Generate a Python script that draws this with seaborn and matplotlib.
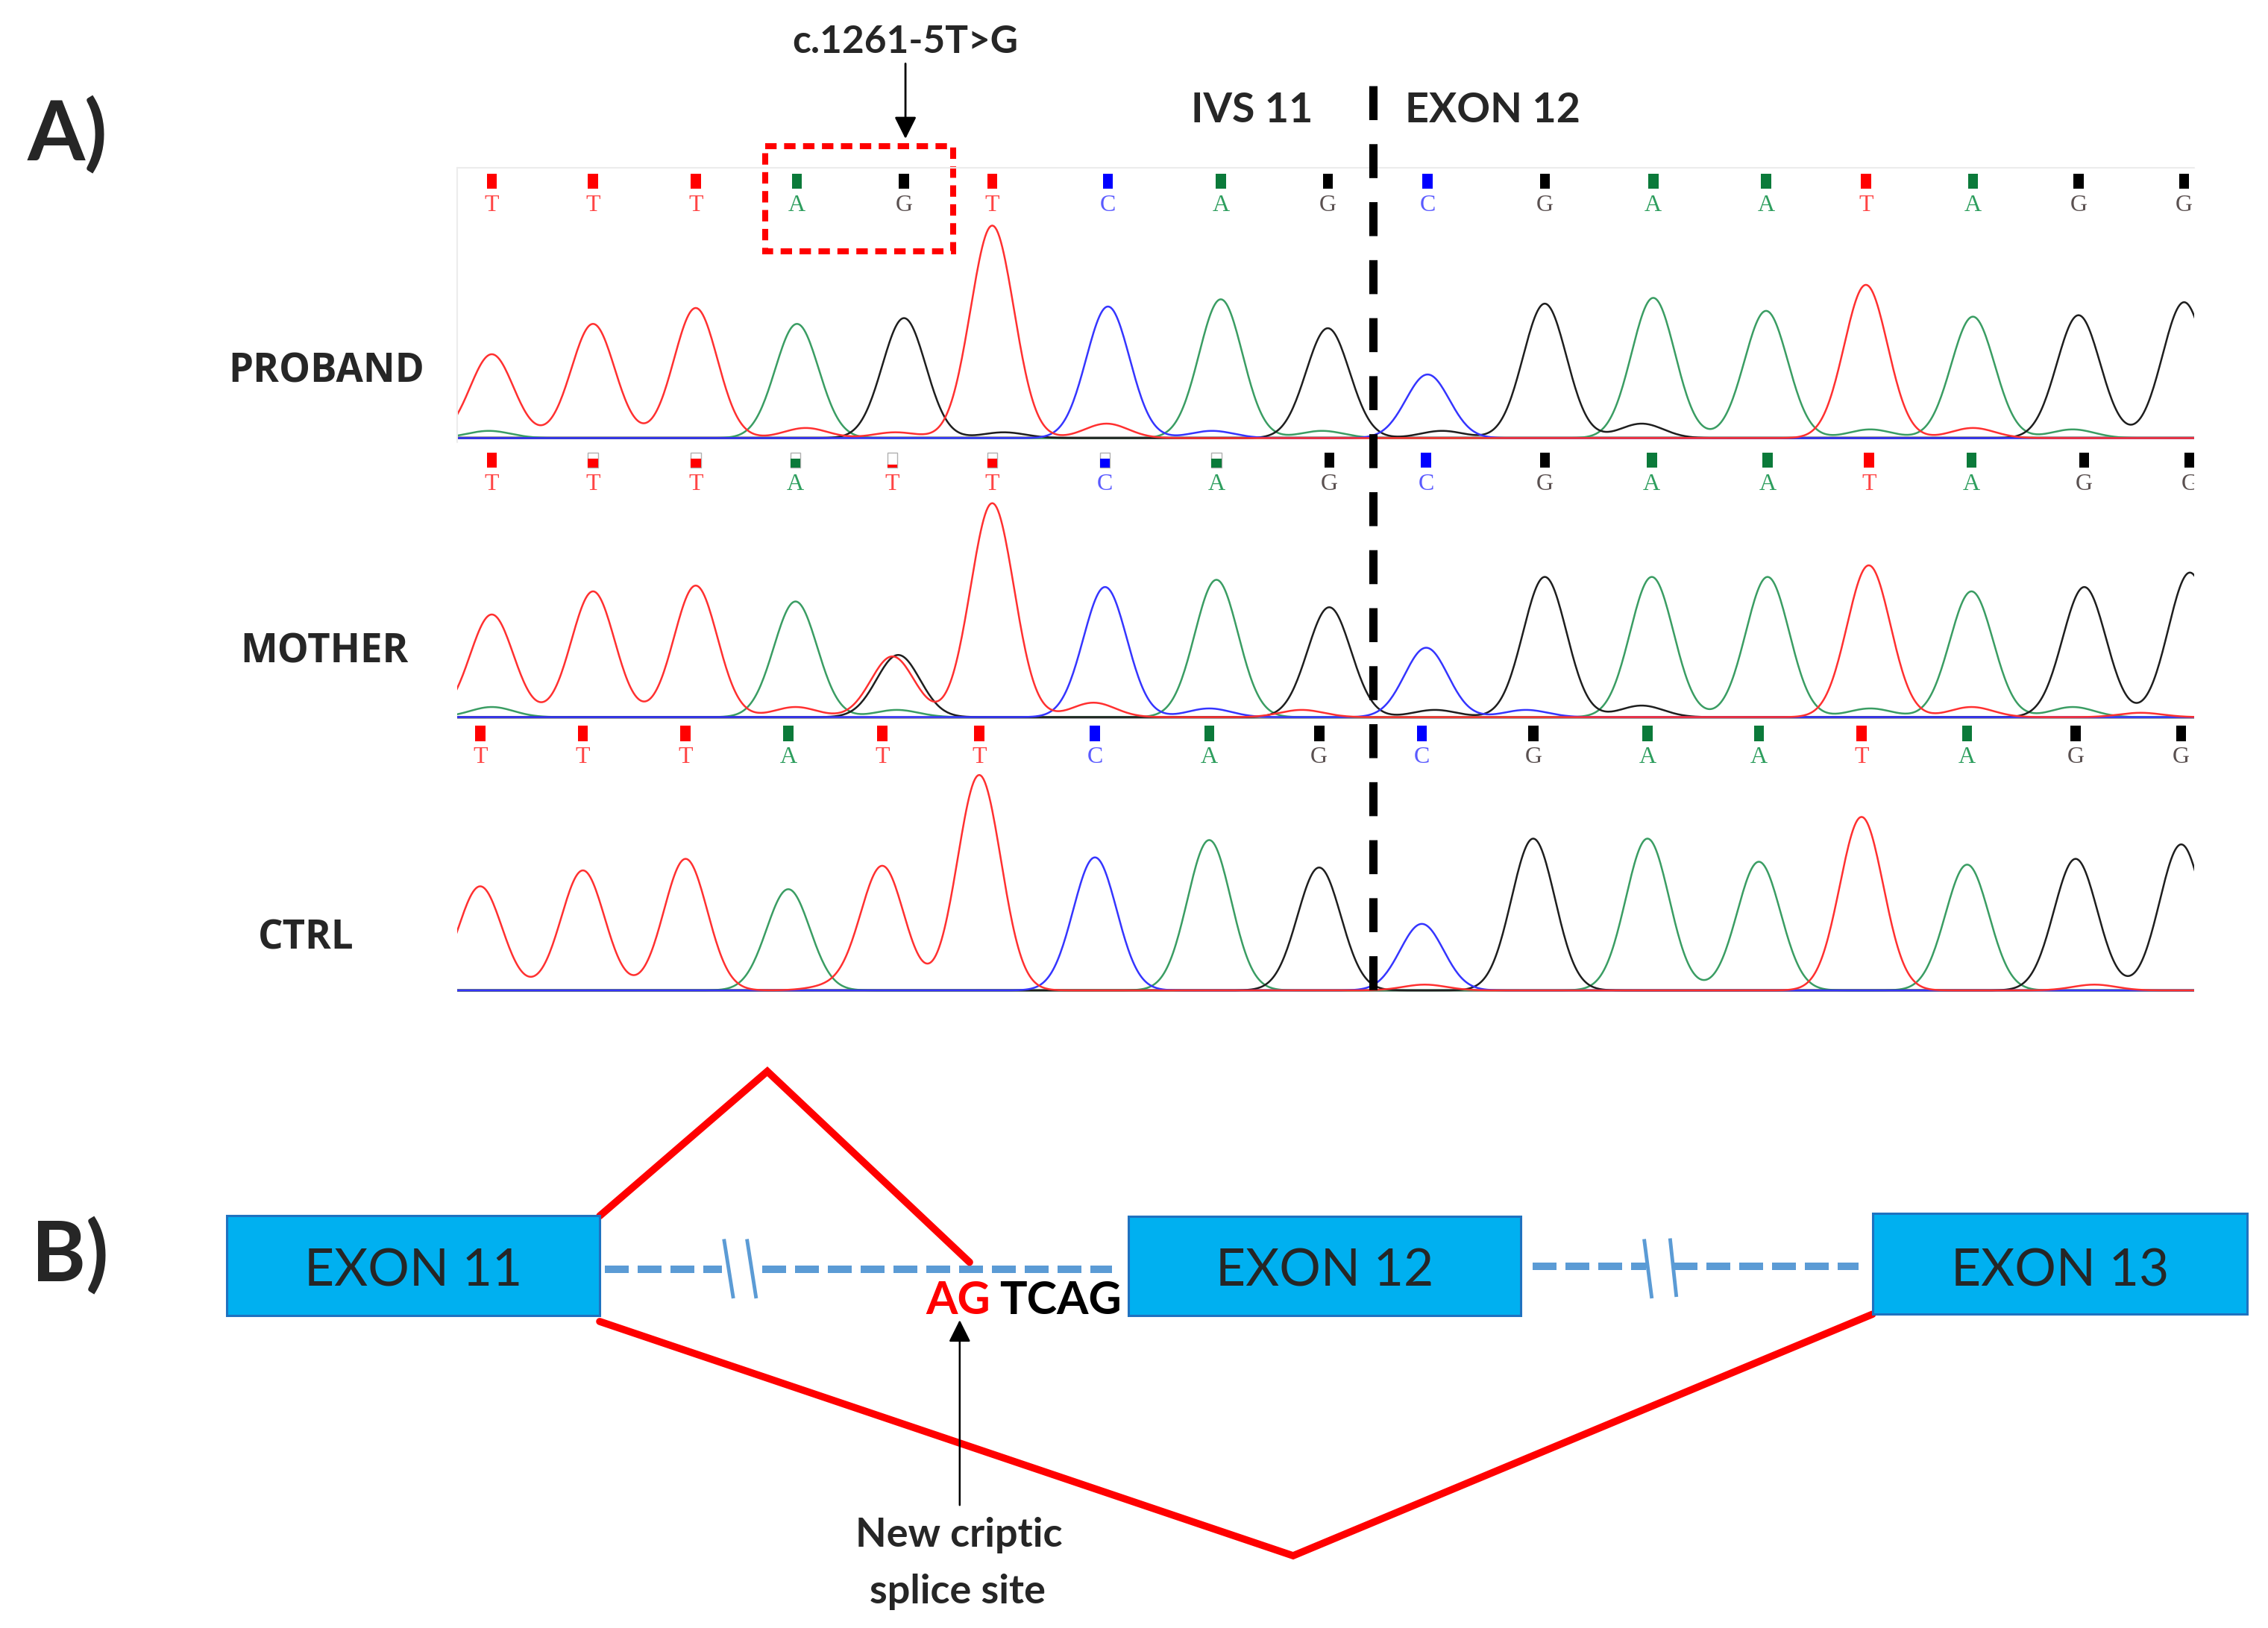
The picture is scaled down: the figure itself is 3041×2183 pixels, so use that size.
import numpy as np
import pandas as pd
import seaborn as sns
import matplotlib.pyplot as plt
from matplotlib.patches import Rectangle

# ---- chromatogram data (x = scan position, height = signal) ----
samples = ["PROBAND", "MOTHER", "CTRL"]

proband_calls = list("TTTAGTCAGCGAATAGG")
proband_pos = [340, 410, 481, 551, 625, 686, 766, 844, 918, 987, 1068, 1143, 1221, 1290, 1364, 1437, 1510]
proband_height = [58, 79, 90, 79, 83, 147, 91, 96, 76, 44, 93, 97, 88, 106, 84, 85, 94]
proband_quality = [1] * 17
proband_minor_base = list("ATTTCGAGGATA")
proband_minor_pos = [338, 557, 619, 765, 838, 694, 914, 997, 1135, 1293, 1364, 1433]
proband_minor_height = [5, 7, 4, 10, 5, 4, 5, 5, 10, 6, 7, 6]

mother_calls = list("TTTATTCAGCGAATAGG")
mother_pos = [340, 410, 481, 550, 617, 686, 764, 841, 919, 986, 1068, 1142, 1222, 1292, 1363, 1441, 1514]
mother_height = [71, 87, 91, 80, 42, 148, 90, 95, 76, 48, 97, 97, 97, 105, 87, 90, 100]
mother_quality = [1, .6, .6, .6, .2, .6, .6, .6, 1, 1, 1, 1, 1, 1, 1, 1, 1]
mother_minor_base = list("GATATCTGCGATAT")
mother_minor_pos = [621, 340, 550, 620, 756, 836, 900, 992, 1055, 1135, 1293, 1363, 1433, 1480]
mother_minor_height = [43, 7, 7, 5, 10, 6, 5, 5, 5, 8, 6, 7, 7, 3]

ctrl_calls = list("TTTATTCAGCGAATAGG")
ctrl_pos = [332, 403, 474, 545, 610, 677, 757, 836, 912, 983, 1060, 1139, 1216, 1287, 1360, 1435, 1508]
ctrl_height = [72, 83, 91, 70, 86, 149, 92, 104, 85, 46, 105, 105, 89, 120, 87, 91, 101]
ctrl_quality = [1] * 17
ctrl_minor_base = list("TTT")
ctrl_minor_pos = [575, 985, 1448]
ctrl_minor_height = [3, 4, 4]

# ---- gene diagram (panel B) ----
exon_labels = ["EXON 11", "EXON 12", "EXON 13"]
exon_start = [157, 780, 1294.5]
exon_end = [414.6, 1051.5, 1553.6]
exon_top = [841, 841.5, 839]
exon_bottom = [910, 909.7, 909]

trace_colors = {"A": "#3a9d63", "C": "#3535ff", "G": "#1e1e1e", "T": "#ff3030"}
mark_colors = {"A": "#0b7a3a", "C": "#0000ff", "G": "#000000", "T": "#ff0000"}
letter_colors = {"A": "#2e9e5e", "C": "#5a5aff", "G": "#5a5050", "T": "#ff4545"}


def trace_frame(calls, pos, height, mbase, mpos, mheight, sigma=15):
    x = np.arange(300, 1531)
    bases = list(calls) + list(mbase)
    centers = list(pos) + list(mpos)
    heights = list(height) + list(mheight)
    parts = []
    for ch in "ACGT":
        sig = np.zeros(len(x))
        for b, c, h in zip(bases, centers, heights):
            if b == ch:
                sig += h * np.exp(-0.5 * ((x - c) / sigma) ** 2)
        parts.append(pd.DataFrame({"scan": x, "signal": sig, "channel": ch}))
    return pd.concat(parts, ignore_index=True)


rows = {
    "PROBAND": (proband_calls, proband_pos, proband_height, proband_quality,
                proband_minor_base, proband_minor_pos, proband_minor_height),
    "MOTHER": (mother_calls, mother_pos, mother_height, mother_quality,
               mother_minor_base, mother_minor_pos, mother_minor_height),
    "CTRL": (ctrl_calls, ctrl_pos, ctrl_height, ctrl_quality,
             ctrl_minor_base, ctrl_minor_pos, ctrl_minor_height),
}

sns.set_theme(style="white")
plt.rcParams["font.family"] = ["Lato", "DejaVu Sans"]

W, H = 1568, 1126
fig = plt.figure(figsize=(30.41, 21.83), dpi=100)


def rect(x0, y0, x1, y1):
    return [x0 / W, 1 - y1 / H, (x1 - x0) / W, (y1 - y0) / H]


row_box = {"PROBAND": (116, 306), "MOTHER": (309, 499), "CTRL": (498, 688)}
label_pos = {"PROBAND": (225.5, 264.6), "MOTHER": (224.4, 458.5), "CTRL": (211.5, 656.6)}

for name in samples:
    calls, pos, height, qual, mb, mp, mh = rows[name]
    top, bottom = row_box[name]
    ax = fig.add_axes(rect(316, top, 1517, bottom))
    df = trace_frame(calls, pos, height, mb, mp, mh)
    ax.axhline(0, color="#8c8c8c", lw=2.6, zorder=1)
    sns.lineplot(data=df, x="scan", y="signal", hue="channel", hue_order=list("AGCT"),
                 palette=trace_colors, estimator=None, errorbar=None, sort=False,
                 legend=False, linewidth=1.8, ax=ax, zorder=2)
    for b, p, q in zip(calls, pos, qual):
        if q < 1:
            ax.bar(p, 10.5, bottom=172.5, width=7, color="white", edgecolor="#b0b0b0", linewidth=1)
        ax.bar(p, 10.5 * q, bottom=172.5, width=7, color=mark_colors[b], linewidth=0)
        ax.text(p, 161, b, color=letter_colors[b], ha="center", va="center",
                fontsize=23, family="Liberation Serif", clip_on=True)
    ax.set_xlim(316, 1517)
    ax.set_ylim(-3, 187)
    ax.axis("off")

# overlay in layout units for labels, annotations and panel B
ov = fig.add_axes([0, 0, 1, 1])
ov.set_xlim(0, W)
ov.set_ylim(H, 0)
ov.axis("off")

ov.plot([316, 1517], [116, 116], color="#ececec", lw=1.5)
ov.plot([316, 316], [116, 306], color="#ececec", lw=1.5)

for name in samples:
    lx, ly = label_pos[name]
    ov.text(lx, ly, name, ha="center", va="baseline", fontsize=38,
            fontweight="bold", family=["Open Sans", "DejaVu Sans"])

ov.text(18.8, 110.6, "A)", ha="left", va="baseline", fontsize=80, fontweight="bold")
ov.text(21.5, 885.6, "B)", ha="left", va="baseline", fontsize=80, fontweight="bold")

ov.text(626, 36.7, "c.1261-5T>G", ha="center", va="baseline", fontsize=37, fontweight="bold")
ov.annotate("", xy=(626, 96), xytext=(626, 44),
            arrowprops=dict(arrowstyle="-|>,head_length=0.6,head_width=0.3", color="black",
                            lw=2, mutation_scale=30, shrinkA=0, shrinkB=0))
ov.add_patch(Rectangle((529, 101), 130, 73, fill=False, edgecolor="red", lw=5.8,
                       linestyle=(0, (1.9, 1.25))))

ov.text(865.5, 84.6, "IVS 11", ha="center", va="baseline", fontsize=40, fontweight="bold")
ov.text(1032, 84.6, "EXON 12", ha="center", va="baseline", fontsize=40, fontweight="bold")
ov.plot([949, 949], [59.3, 686], color="black", lw=8, dashes=(4.1, 2.9),
        dash_capstyle="butt", zorder=5)

# panel B: introns, splice paths, exons
intron_color = "#5b9bd5"
for seg, y in [((418, 499), 878), ((527, 769), 878), ((1059.5, 1138), 876), ((1157, 1285), 876)]:
    ov.plot(seg, [y, y], color=intron_color, lw=7.2, dashes=(3.2, 1.2), dash_capstyle="butt")
for xs, ys in [((500.5, 507), (857, 898)), ((516.4, 522.8), (857, 898)),
               ((1136.7, 1142), (857, 898)), ((1154.6, 1159), (856.5, 897))]:
    ov.plot(xs, ys, color=intron_color, lw=3.5, solid_capstyle="butt")

ov.plot([414.6, 530.5, 670.3], [841, 741, 873], color="#ff0000", lw=7, solid_joinstyle="miter")
ov.plot([414.6, 894, 1294.5], [914, 1076, 909], color="#ff0000", lw=7, solid_joinstyle="miter")

for lab, x0, x1, y0, y1 in zip(exon_labels, exon_start, exon_end, exon_top, exon_bottom):
    ov.add_patch(Rectangle((x0, y0), x1 - x0, y1 - y0, facecolor="#00b0f0",
                           edgecolor="#1f72c0", lw=2.2, zorder=3))
    ov.text((x0 + x1) / 2, 889.6, lab, ha="center", va="baseline", fontsize=50, zorder=4)

ov.text(640, 908.7, "AG", ha="left", va="baseline", fontsize=44, fontweight="bold", color="#ff0000")
ov.text(691, 908.7, "TCAG", ha="left", va="baseline", fontsize=44, fontweight="bold", color="black")
ov.annotate("", xy=(663.5, 913), xytext=(663.5, 1041),
            arrowprops=dict(arrowstyle="-|>,head_length=0.6,head_width=0.3", color="black",
                            lw=1.8, mutation_scale=30, shrinkA=0, shrinkB=0))
ov.text(663, 1070, "New criptic", ha="center", va="baseline", fontsize=39, fontweight="bold")
ov.text(662, 1108.8, "splice site", ha="center", va="baseline", fontsize=39, fontweight="bold")

fig.savefig("out.png", dpi=100, facecolor="white")
